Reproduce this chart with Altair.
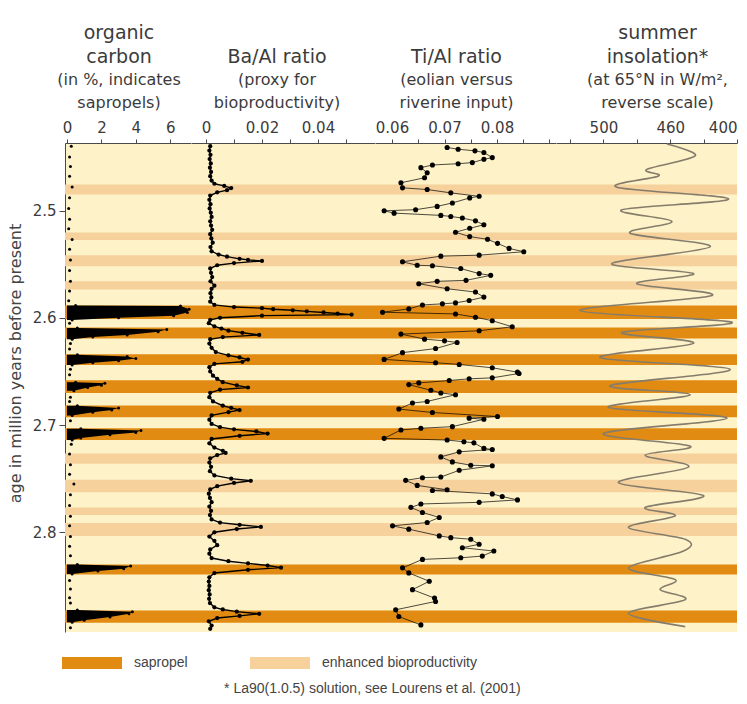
import altair as alt
import pandas as pd

# ---------------- data ----------------
sap_start = [2.5886, 2.6090, 2.6340, 2.6582, 2.6817, 2.7030, 2.8300, 2.8730]
sap_end = [2.6011, 2.6193, 2.6440, 2.6701, 2.6927, 2.7140, 2.8394, 2.8843]
enh_start = [2.4757, 2.5205, 2.5416, 2.5660, 2.7265, 2.7510, 2.7768, 2.7914]
enh_end = [2.4851, 2.5275, 2.5519, 2.5736, 2.7360, 2.7627, 2.7840, 2.8034]

# organic carbon (%)  -- group 0 = background dots, others = sapropel spikes
oc_age = [2.440, 2.450, 2.459, 2.468, 2.478, 2.488, 2.498, 2.508, 2.517, 2.527, 2.536,
          2.546, 2.556, 2.566, 2.575, 2.584, 2.605, 2.624, 2.629, 2.648, 2.653,
          2.674, 2.678, 2.696, 2.718, 2.727, 2.737, 2.746, 2.755, 2.765, 2.775,
          2.785, 2.794, 2.804, 2.813, 2.822, 2.845, 2.853, 2.861, 2.866, 2.889,
          2.5885, 2.5890, 2.5920, 2.5950, 2.5980, 2.6000, 2.6020,
          2.6095, 2.6110, 2.6130, 2.6160, 2.6180, 2.6200,
          2.6345, 2.6360, 2.6380, 2.6400, 2.6420, 2.6440,
          2.6600, 2.6610, 2.6630, 2.6650, 2.6680,
          2.6820, 2.6840, 2.6860, 2.6880, 2.6910,
          2.7035, 2.7050, 2.7070, 2.7090, 2.7120, 2.7140,
          2.8300, 2.8315, 2.8340, 2.8360, 2.8390,
          2.8725, 2.8740, 2.8760, 2.8790, 2.8820, 2.8840]
oc_val = [0.25, 0.15, 0.2, 0.15, 0.3, 0.15, 0.1, 0.15, 0.1, 0.3, 0.15,
          0.2, 0.15, 0.2, 0.15, 0.1, 0.15, 0.2, 0.15, 0.2, 0.15,
          0.2, 0.15, 0.2, 0.25, 0.15, 0.2, 0.15, 0.4, 0.2, 0.15,
          0.2, 0.15, 0.2, 0.15, 0.2, 0.15, 0.2, 0.15, 0.2, 0.2,
          0.5, 6.6, 7.1, 7.0, 6.2, 3.0, 0.3,
          0.6, 5.8, 5.3, 3.5, 1.5, 0.3,
          0.6, 3.5, 4.0, 3.0, 1.5, 0.3,
          0.5, 2.2, 2.0, 1.2, 0.4,
          0.6, 3.0, 2.6, 1.5, 0.3,
          0.8, 4.3, 4.0, 2.5, 0.8, 0.3,
          0.6, 3.7, 3.3, 1.8, 0.3,
          0.6, 3.8, 3.6, 2.5, 1.0, 0.3]
oc_grp = [0] * 41 + [1] * 7 + [2] * 6 + [3] * 6 + [4] * 5 + [5] * 5 + [6] * 6 + [7] * 5 + [8] * 6

# Ba/Al ratio
ba_age = [2.440, 2.444, 2.448, 2.452, 2.456, 2.460, 2.464, 2.468, 2.472, 2.475, 2.477, 2.479,
          2.481, 2.483, 2.486, 2.490, 2.494, 2.498, 2.502, 2.506, 2.510, 2.514, 2.518, 2.522,
          2.526, 2.530, 2.534, 2.538, 2.541, 2.543, 2.545, 2.546, 2.547, 2.549, 2.551, 2.554,
          2.558, 2.562, 2.566, 2.570, 2.573, 2.577, 2.581, 2.585, 2.588, 2.590, 2.591, 2.592,
          2.593, 2.594, 2.595, 2.596, 2.597, 2.598, 2.600, 2.602, 2.605, 2.608, 2.610, 2.612,
          2.614, 2.616, 2.618, 2.620, 2.624, 2.628, 2.632, 2.635, 2.637, 2.639, 2.641, 2.643,
          2.646, 2.650, 2.654, 2.657, 2.660, 2.663, 2.665, 2.667, 2.670, 2.674, 2.678, 2.682,
          2.684, 2.686, 2.688, 2.691, 2.695, 2.699, 2.702, 2.704, 2.706, 2.708, 2.710, 2.713,
          2.717, 2.721, 2.724, 2.726, 2.728, 2.731, 2.735, 2.739, 2.743, 2.747, 2.750, 2.752,
          2.754, 2.757, 2.760, 2.764, 2.768, 2.772, 2.776, 2.780, 2.784, 2.788, 2.791, 2.793,
          2.795, 2.797, 2.800, 2.804, 2.808, 2.812, 2.816, 2.820, 2.824, 2.827, 2.829, 2.831,
          2.833, 2.835, 2.838, 2.842, 2.846, 2.850, 2.854, 2.858, 2.862, 2.866, 2.870, 2.872,
          2.874, 2.876, 2.878, 2.880, 2.883, 2.887, 2.890]
ba_val = [0.0015, 0.0012, 0.0016, 0.0013, 0.0017, 0.0014, 0.0018, 0.0015, 0.0020, 0.0030, 0.0065, 0.0090,
          0.0075, 0.0040, 0.0015, 0.0012, 0.0016, 0.0013, 0.0017, 0.0020, 0.0015, 0.0018, 0.0022, 0.0015,
          0.0019, 0.0024, 0.0016, 0.0020, 0.0045, 0.0075, 0.0120, 0.0150, 0.0200, 0.0100, 0.0040, 0.0015,
          0.0018, 0.0022, 0.0016, 0.0030, 0.0020, 0.0016, 0.0019, 0.0015, 0.0030, 0.0100, 0.0200, 0.0240,
          0.0310, 0.0360, 0.0420, 0.0470, 0.0520, 0.0200, 0.0050, 0.0015, 0.0010, 0.0030, 0.0055, 0.0080,
          0.0130, 0.0190, 0.0060, 0.0015, 0.0012, 0.0020, 0.0035, 0.0080, 0.0120, 0.0150, 0.0130, 0.0030,
          0.0012, 0.0015, 0.0025, 0.0040, 0.0060, 0.0110, 0.0150, 0.0050, 0.0015, 0.0012, 0.0025, 0.0060,
          0.0090, 0.0120, 0.0080, 0.0020, 0.0012, 0.0020, 0.0050, 0.0100, 0.0180, 0.0220, 0.0120, 0.0020,
          0.0012, 0.0030, 0.0060, 0.0070, 0.0040, 0.0015, 0.0012, 0.0018, 0.0014, 0.0030, 0.0090, 0.0160,
          0.0100, 0.0040, 0.0015, 0.0010, 0.0014, 0.0020, 0.0012, 0.0018, 0.0014, 0.0020, 0.0050, 0.0120,
          0.0196, 0.0110, 0.0030, 0.0012, 0.0030, 0.0040, 0.0015, 0.0012, 0.0020, 0.0080, 0.0150, 0.0220,
          0.0268, 0.0150, 0.0030, 0.0012, 0.0010, 0.0012, 0.0010, 0.0013, 0.0011, 0.0014, 0.0030, 0.0060,
          0.0110, 0.0190, 0.0120, 0.0040, 0.0010, 0.0020, 0.0015]

# Ti/Al ratio
ti_age = [2.4412, 2.4428, 2.4443, 2.4459, 2.4506, 2.4522, 2.4553, 2.4563, 2.4575, 2.4600,
          2.4647, 2.4694, 2.4741, 2.4788, 2.4804, 2.4835, 2.4867, 2.4882, 2.4929, 2.4961,
          2.4992, 2.5002, 2.5024, 2.5045, 2.5055, 2.5070, 2.5096, 2.5133, 2.5165, 2.5202,
          2.5243, 2.5268, 2.5306, 2.5353, 2.5384, 2.5416, 2.5425, 2.5478, 2.5510, 2.5515,
          2.5541, 2.5588, 2.5604, 2.5651, 2.5660, 2.5682, 2.5729, 2.5760, 2.5807, 2.5839,
          2.5861, 2.5870, 2.5880, 2.5917, 2.5948, 2.5964, 2.5995, 2.6027, 2.6084, 2.6121,
          2.6152, 2.6199, 2.6215, 2.6230, 2.6287, 2.6325, 2.6388, 2.6419, 2.6435, 2.6466,
          2.6507, 2.6519, 2.6560, 2.6569, 2.6585, 2.6607, 2.6623, 2.6676, 2.6701, 2.6717,
          2.6780, 2.6795, 2.6851, 2.6883, 2.6921, 2.6936, 2.6946, 2.7015, 2.7030, 2.7046,
          2.7124, 2.7140, 2.7156, 2.7166, 2.7218, 2.7228, 2.7250, 2.7297, 2.7344, 2.7375,
          2.7380, 2.7422, 2.7485, 2.7491, 2.7516, 2.7563, 2.7604, 2.7610, 2.7642, 2.7667,
          2.7698, 2.7721, 2.7736, 2.7768, 2.7815, 2.7862, 2.7909, 2.7940, 2.7971, 2.8034,
          2.8050, 2.8065, 2.8112, 2.8144, 2.8175, 2.8222, 2.8238, 2.8253, 2.8332, 2.8379,
          2.8457, 2.8535, 2.8614, 2.8645, 2.8723, 2.8786, 2.8864]
ti_val = [0.0705, 0.0726, 0.0758, 0.0775, 0.0791, 0.0775, 0.0753, 0.0726, 0.0677, 0.0655,
          0.0667, 0.0662, 0.0617, 0.0620, 0.0667, 0.0712, 0.0766, 0.0748, 0.0715, 0.0686,
          0.0645, 0.0585, 0.0604, 0.0693, 0.0712, 0.0734, 0.0759, 0.0775, 0.0748, 0.0721,
          0.0748, 0.0782, 0.0801, 0.0823, 0.0851, 0.0766, 0.0693, 0.0620, 0.0648, 0.0677,
          0.0731, 0.0766, 0.0788, 0.0741, 0.0686, 0.0651, 0.0705, 0.0759, 0.0775, 0.0747,
          0.0721, 0.0696, 0.0658, 0.0632, 0.0582, 0.0721, 0.0759, 0.0791, 0.0829, 0.0766,
          0.0617, 0.0662, 0.0700, 0.0724, 0.0683, 0.0620, 0.0585, 0.0683, 0.0728, 0.0791,
          0.0839, 0.0842, 0.0791, 0.0747, 0.0709, 0.0651, 0.0632, 0.0674, 0.0693, 0.0721,
          0.0667, 0.0639, 0.0613, 0.0677, 0.0801, 0.0747, 0.0775, 0.0715, 0.0655, 0.0617,
          0.0585, 0.0705, 0.0737, 0.0756, 0.0775, 0.0791, 0.0728, 0.0693, 0.0715, 0.0750,
          0.0791, 0.0728, 0.0693, 0.0658, 0.0626, 0.0648, 0.0705, 0.0677, 0.0791, 0.0810,
          0.0839, 0.0766, 0.0655, 0.0636, 0.0658, 0.0690, 0.0667, 0.0601, 0.0632, 0.0690,
          0.0712, 0.0750, 0.0766, 0.0734, 0.0794, 0.0772, 0.0731, 0.0658, 0.0620, 0.0632,
          0.0671, 0.0639, 0.0681, 0.0683, 0.0607, 0.0613, 0.0655]

# summer insolation (W/m2)
ins_age = [2.4380, 2.4490, 2.4616, 2.4678, 2.4782, 2.4892, 2.4993, 2.5102, 2.5212, 2.5337,
           2.5494, 2.5588, 2.5682, 2.5792, 2.5933, 2.6042, 2.6136, 2.6237, 2.6372, 2.6482,
           2.6632, 2.6717, 2.6836, 2.6936, 2.7077, 2.7197, 2.7281, 2.7391, 2.7538, 2.7658,
           2.7768, 2.7846, 2.7956, 2.8065, 2.8175, 2.8332, 2.8441, 2.8535, 2.8629, 2.8755,
           2.8880]
ins_val = [462, 445, 474, 467, 492, 425, 489, 459, 484, 436,
           495, 446, 480, 435, 514, 423, 489, 446, 502, 424,
           496, 448, 497, 426, 500, 448, 475, 449, 491, 440,
           475, 457, 485, 451, 452, 485, 457, 466, 451, 485,
           451]

# ---------------- style ----------------
BG = "#FDF2C8"
ENH = "#F6D19C"
SAP = "#E28B12"
TXT = "#3b3b3b"
AX = "#4a4a4a"
H = 489
YDOM = [2.437, 2.893]

bands = pd.DataFrame({
    "start": sap_start + enh_start,
    "end": sap_end + enh_end,
    "kind": ["sapropel"] * len(sap_start) + ["enhanced bioproductivity"] * len(enh_start),
})
oc = pd.DataFrame({"age": oc_age, "v": oc_val, "grp": oc_grp})
ba = pd.DataFrame({"age": ba_age, "v": ba_val})
ti = pd.DataFrame({"age": ti_age, "v": ti_val})
ins = pd.DataFrame({"age": ins_age, "v": ins_val})

YTITLE = "age in million years before present"
yscale = alt.Scale(domain=YDOM, reverse=True, nice=False, zero=False)
yaxis_main = alt.Axis(values=[2.5, 2.6, 2.7, 2.8], format=".1f", tickSize=6, labelPadding=3,
                      labelFontSize=15, labelFont="DejaVu Sans", labelColor=TXT,
                      domainColor=AX, tickColor=AX, grid=False,
                      title=YTITLE, titleFont="DejaVu Sans",
                      titleFontSize=16, titleFontWeight="normal", titleColor="#444444",
                      titlePadding=9, titleY=220)


def top_axis(values, label_expr, flush=False):
    return alt.Axis(orient="top", values=values, labelExpr=label_expr, tickSize=4, labelPadding=4,
                    labelFontSize=15, labelFont="DejaVu Sans", labelColor=TXT,
                    domainColor=AX, tickColor=AX, grid=False, title=None, labelFlush=flush,
                    labelOverlap=False)


def yenc(first, field="age"):
    if first:
        return alt.Y(f"{field}:Q", scale=yscale, axis=yaxis_main, title=YTITLE)
    return alt.Y(f"{field}:Q", scale=yscale, axis=None)


def band_layer(first):
    return alt.Chart(bands).mark_rect().encode(
        y=yenc(first, "start"), y2="end:Q",
        color=alt.Color("kind:N",
                        scale=alt.Scale(domain=["sapropel", "enhanced bioproductivity"], range=[SAP, ENH]),
                        legend=alt.Legend(title=None, orient="none", direction="horizontal",
                                          legendX=-3, legendY=490,
                                          symbolType="M-1,-0.2H1V0.2H-1Z", symbolSize=3600,
                                          symbolStrokeWidth=0, columnPadding=62, labelOffset=12,
                                          labelFont="Liberation Sans", labelFontSize=14,
                                          labelColor="#444444", labelLimit=300)),
    )


def ptitle(lines, sub, dx):
    return alt.TitleParams(text=lines, subtitle=sub, font="DejaVu Sans", fontSize=19,
                           fontWeight="normal", color=TXT, subtitleFont="DejaVu Sans",
                           subtitleFontSize=16, subtitleColor=TXT, lineHeight=24,
                           subtitleLineHeight=23, subtitlePadding=5, offset=9,
                           anchor="middle", frame="group", dx=dx)


# panel 1: organic carbon
oc_scale = alt.Scale(domain=[-0.116, 7.21], nice=False, zero=False)
x1 = alt.X("v:Q", scale=oc_scale, axis=top_axis([0, 2, 4, 6], "datum.label"))
spikes = [
    alt.Chart(oc).transform_filter(f"datum.grp == {g}")
    .mark_area(orient="horizontal", color="black", opacity=1)
    .encode(y=yenc(True), x=x1, x2=alt.datum(0))
    for g in sorted(set(oc_grp)) if g > 0
]
p1 = alt.layer(
    band_layer(True),
    *spikes,
    alt.Chart(oc).mark_circle(color="black", size=9, opacity=1).encode(x=x1, y=yenc(True)),
).properties(width=126, height=H,
             title=ptitle(["organic", "carbon"], ["(in %, indicates", "sapropels)"], -9))

# panel 2: Ba/Al
x2 = alt.X("v:Q", scale=alt.Scale(domain=[-0.00536, 0.06036], nice=False, zero=False),
           axis=top_axis([0, 0.01, 0.02, 0.03, 0.04, 0.05],
                         "datum.value == 0 ? '0' : (round(datum.value*100) % 2 == 0 ? format(datum.value, '.2f') : '')"))
p2 = alt.layer(
    band_layer(False),
    alt.Chart(ba).mark_line(color="black", strokeWidth=1.4).encode(x=x2, y=yenc(False), order="age:Q"),
    alt.Chart(ba).mark_circle(color="black", size=18, opacity=1).encode(x=x2, y=yenc(False)),
).properties(width=184, height=H,
             title=ptitle(["Ba/Al ratio"], ["(proxy for", "bioproductivity)"], -6))

# panel 3: Ti/Al
x3 = alt.X("v:Q", scale=alt.Scale(domain=[0.05676, 0.09124], nice=False, zero=False),
           axis=top_axis([0.06, 0.065, 0.07, 0.075, 0.08, 0.085, 0.09],
                         "round(datum.value*1000) % 10 == 0 && datum.value < 0.085 ? format(datum.value, '.2f') : ''"))
p3 = alt.layer(
    band_layer(False),
    alt.Chart(ti).mark_line(color="black", strokeWidth=0.7).encode(x=x3, y=yenc(False), order="age:Q"),
    alt.Chart(ti).mark_circle(color="black", size=26, opacity=1).encode(x=x3, y=yenc(False)),
).properties(width=181, height=H,
             title=ptitle(["Ti/Al ratio"], ["(eolian versus", "riverine input)"], -9))

# panel 4: insolation
x4 = alt.X("v:Q", scale=alt.Scale(domain=[420, 528.4], reverse=True, nice=False, zero=False),
           axis=top_axis([520, 500, 480, 460, 440, 420],
                         "datum.value == 500 ? '500' : datum.value == 460 ? '460' : datum.value == 420 ? '400' : ''",
                         flush=True))
p4 = alt.layer(
    band_layer(False),
    alt.Chart(ins).mark_line(color="#857d6c", strokeWidth=1.6, interpolate="cardinal")
    .encode(x=x4, y=yenc(False), order="age:Q"),
).properties(width=181, height=H,
             title=ptitle(["summer", "insolation*"], ["(at 65°N in W/m²,", "reverse scale)"], 11))

chart = alt.hconcat(p1, p2, p3, p4, spacing=0, bounds="flush").properties(
    padding={"left": 7, "top": 24, "right": 5, "bottom": 0},
    title=alt.TitleParams(text="* La90(1.0.5) solution, see Lourens et al. (2001)", orient="bottom",
                          anchor="middle", font="Liberation Sans", fontSize=14, fontWeight="normal",
                          color="#444444", offset=12),
).configure(background="white").configure_view(fill=BG, stroke=None)

chart.save("out.html", embed_options={"renderer": "svg", "actions": False})
